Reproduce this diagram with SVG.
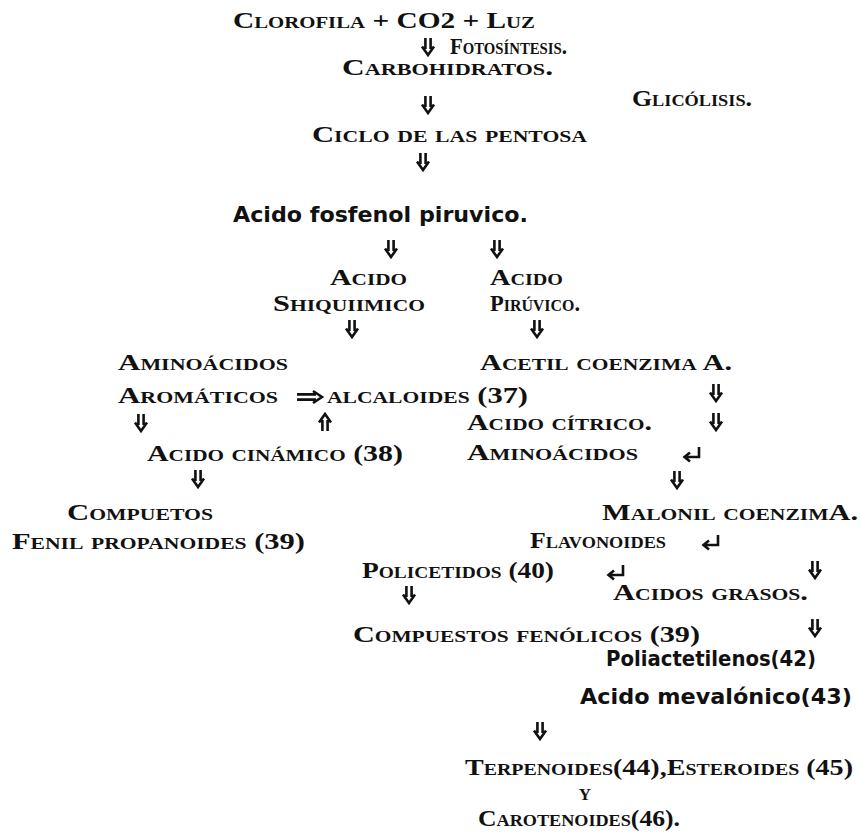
<svg xmlns="http://www.w3.org/2000/svg" xmlns:xlink="http://www.w3.org/1999/xlink" width="861" height="836" viewBox="0 0 861 836">
<style>
.t{font-family:"Liberation Serif","Times New Roman",serif;font-weight:bold;font-size:24px;font-variant:small-caps;fill:#111}
.s{font-family:"DejaVu Sans","Liberation Sans",sans-serif;font-weight:bold;font-size:21px;fill:#111}
.a{fill:none;stroke:#111;stroke-width:2.6;stroke-linecap:butt}
</style>
<defs>
<path id="dn" class="a" d="M-2.6,0V11M2.6,0V11M-6,8.5L0,17L6,8.5"/>
<path id="up" class="a" d="M-2.6,17V6M2.6,17V6M-6,8.5L0,0L6,8.5"/>
<path id="rt" class="a" d="M0,-2.6H19M0,2.6H19M16,-6L25,0L16,6"/>
<path id="ret" class="a" d="M16,0V10H2M7,5.5L1.5,10L7,14.5"/>
</defs>
<rect width="861" height="836" fill="#fff"/>
<g id="n1"><text class="t" x="233" y="28" textLength="302" lengthAdjust="spacingAndGlyphs">Clorofila + CO2 + Luz</text></g>
<g id="n2"><text class="t" x="450" y="54" textLength="117" lengthAdjust="spacingAndGlyphs">Fotosíntesis.</text></g>
<g id="n3"><text class="t" x="342" y="75" textLength="211" lengthAdjust="spacingAndGlyphs">Carbohidratos.</text></g>
<g id="n4"><text class="t" x="632" y="106" textLength="120" lengthAdjust="spacingAndGlyphs">Glicólisis.</text></g>
<g id="n5"><text class="t" x="312" y="142" textLength="275" lengthAdjust="spacingAndGlyphs">Ciclo de las pentosa</text></g>
<g id="n6"><text class="s" x="233" y="222" textLength="295" lengthAdjust="spacingAndGlyphs">Acido fosfenol piruvico.</text></g>
<g id="n7"><text class="t" x="330" y="285" textLength="77" lengthAdjust="spacingAndGlyphs">Acido</text><text class="t" x="273" y="311" textLength="152" lengthAdjust="spacingAndGlyphs">Shiquiimico</text></g>
<g id="n8"><text class="t" x="490" y="285" textLength="73" lengthAdjust="spacingAndGlyphs">Acido</text><text class="t" x="490" y="311" textLength="90" lengthAdjust="spacingAndGlyphs">Pirúvico.</text></g>
<g id="n9"><text class="t" x="118" y="370" textLength="170" lengthAdjust="spacingAndGlyphs">Aminoácidos</text><text class="t" x="118" y="403" textLength="160" lengthAdjust="spacingAndGlyphs">Aromáticos</text></g>
<g id="n10"><text class="t" x="480" y="370" textLength="252" lengthAdjust="spacingAndGlyphs">Acetil coenzima A.</text></g>
<g id="n11"><text class="t" x="327" y="403" textLength="201" lengthAdjust="spacingAndGlyphs">alcaloides (37)</text></g>
<g id="n12"><text class="t" x="467" y="430" textLength="185" lengthAdjust="spacingAndGlyphs">Acido cítrico.</text></g>
<g id="n13"><text class="t" x="147" y="461" textLength="256" lengthAdjust="spacingAndGlyphs">Acido cinámico (38)</text></g>
<g id="n14"><text class="t" x="467" y="460" textLength="171" lengthAdjust="spacingAndGlyphs">Aminoácidos</text></g>
<g id="n15"><text class="t" x="67" y="520" textLength="146" lengthAdjust="spacingAndGlyphs">Compuetos</text><text class="t" x="12" y="549" textLength="293" lengthAdjust="spacingAndGlyphs">Fenil propanoides (39)</text></g>
<g id="n16"><text class="t" x="602" y="520" textLength="256" lengthAdjust="spacingAndGlyphs">Malonil coenzimA.</text></g>
<g id="n17"><text class="t" x="530" y="548" textLength="136" lengthAdjust="spacingAndGlyphs">Flavonoides</text></g>
<g id="n18"><text class="t" x="362" y="578" textLength="192" lengthAdjust="spacingAndGlyphs">Policetidos (40)</text></g>
<g id="n19"><text class="t" x="613" y="600" textLength="195" lengthAdjust="spacingAndGlyphs">Acidos grasos.</text></g>
<g id="n20"><text class="t" x="353" y="642" textLength="347" lengthAdjust="spacingAndGlyphs">Compuestos fenólicos (39)</text></g>
<g id="n21"><text class="s" x="606" y="666" textLength="210" lengthAdjust="spacingAndGlyphs">Poliactetilenos(42)</text></g>
<g id="n22"><text class="s" x="580" y="704" textLength="272" lengthAdjust="spacingAndGlyphs">Acido mevalónico(43)</text></g>
<g id="n23"><text class="t" x="465" y="775" textLength="388" lengthAdjust="spacingAndGlyphs">Terpenoides(44),Esteroides (45)</text><text class="t" x="585" y="800" text-anchor="middle">y</text><text class="t" x="478" y="826" textLength="202" lengthAdjust="spacingAndGlyphs">Carotenoides(46).</text></g>
<g id="connectors">
<use xlink:href="#dn" x="428" y="38"/>
<use xlink:href="#dn" x="428" y="96"/>
<use xlink:href="#dn" x="423" y="153"/>
<use xlink:href="#dn" x="391" y="240"/>
<use xlink:href="#dn" x="497" y="240"/>
<use xlink:href="#dn" x="352" y="320"/>
<use xlink:href="#dn" x="537" y="320"/>
<use xlink:href="#rt" x="297" y="397"/>
<use xlink:href="#dn" x="716" y="384"/>
<use xlink:href="#dn" x="141" y="414"/>
<use xlink:href="#up" x="325" y="414"/>
<use xlink:href="#dn" x="716" y="413"/>
<use xlink:href="#ret" x="683" y="447"/>
<use xlink:href="#dn" x="198" y="470"/>
<use xlink:href="#dn" x="677" y="471"/>
<use xlink:href="#ret" x="702" y="535"/>
<use xlink:href="#ret" x="607" y="565"/>
<use xlink:href="#dn" x="815" y="561"/>
<use xlink:href="#dn" x="409" y="586"/>
<use xlink:href="#dn" x="815" y="619"/>
<use xlink:href="#dn" x="540" y="722"/>
</g>
</svg>
